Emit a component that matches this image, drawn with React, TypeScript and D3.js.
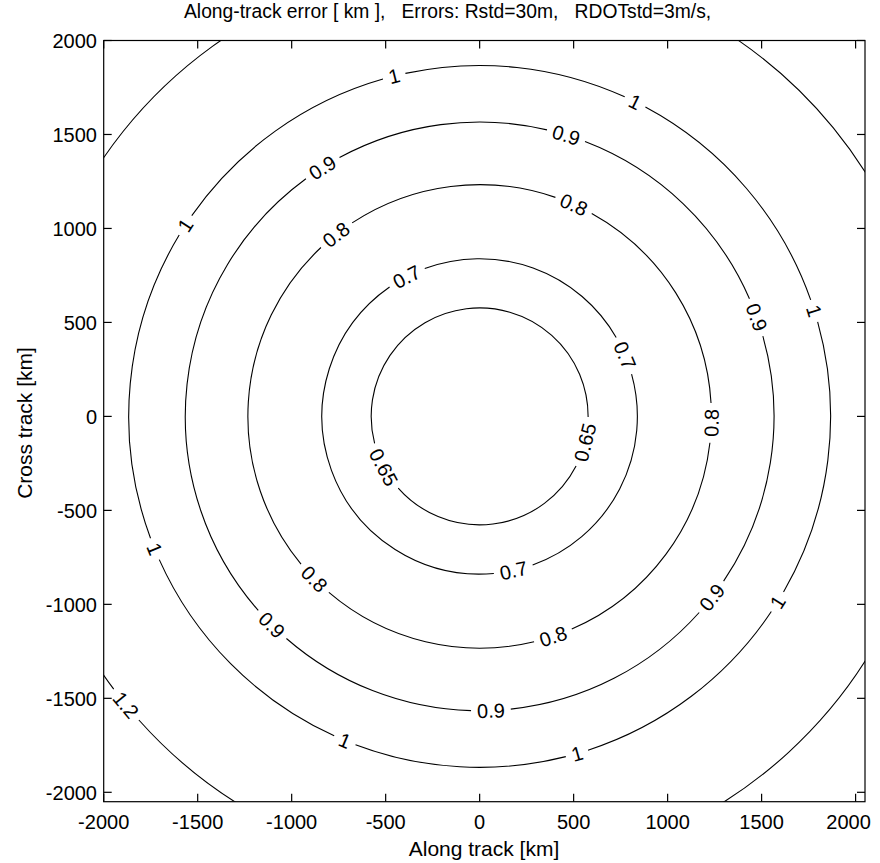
import React, { useEffect, useRef } from 'react';
import * as d3 from 'd3';

// contour levels and their radius (km)
const levels = [0.65, 0.7, 0.8, 0.9, 1, 1.2];
const radiiKm = [577, 839, 1233, 1566, 1867, 2428];
const levelText = ['0.65', '0.7', '0.8', '0.9', '1', '1.2'];
// where clabel put the labels, degrees counter-clockwise from +x
const labelAngles = [
  [-13.8, 207.9],
  [117.6, 22.8, -77.6],
  [66, 128.3, -1.6, 224.5, -71.5],
  [72.9, 122.3, 19.7, 225.1, -37.9, -87.8],
  [104.1, 63.7, 147, 17.5, 202.2, -31.9, 247.4, -73.9],
  [219.2],
];
const xTicks = [-2000, -1500, -1000, -500, 0, 500, 1000, 1500, 2000];
const yTicks = [-2000, -1500, -1000, -500, 0, 500, 1000, 1500, 2000];

const FONT = '"Liberation Sans", Arial, Helvetica, sans-serif';

const App = () => {
  const ref = useRef<SVGSVGElement>(null);

  useEffect(() => {
    const width = 880;
    const height = 863;
    const left = 103.7, right = 865, top = 40.5, bottom = 801.7;

    const x = d3.scaleLinear().domain([-2000, 2050]).range([left, right]);
    const y = d3.scaleLinear().domain([-2050, 2000]).range([bottom, top]);

    const svg = d3.select(ref.current)
      .attr('width', width)
      .attr('height', height)
      .style('position', 'absolute')
      .style('left', '0px')
      .style('top', '0px')
      .style('font-family', FONT);

    svg.selectAll('*').remove();

    svg.append('rect').attr('width', width).attr('height', height).attr('fill', '#fff');

    svg.append('defs').append('clipPath').attr('id', 'plotclip')
      .append('rect')
      .attr('x', left).attr('y', top)
      .attr('width', right - left).attr('height', bottom - top);

    const cx = x(0), cy = y(0);
    const labelSize = 20;
    const charW = (s: string) => s.split('').reduce((a, c) => a + (c === '.' ? 0.278 : 0.556), 0) * labelSize;

    const g = svg.append('g').attr('clip-path', 'url(#plotclip)');

    levels.forEach((lv, i) => {
      const r = x(radiiKm[i]) - x(0);
      const txt = levelText[i];
      const half = (charW(txt) / 2 + 6) / r;
      const gaps = labelAngles[i]
        .map(a => { let t = (a * Math.PI) / 180; t = ((t % (2 * Math.PI)) + 2 * Math.PI) % (2 * Math.PI); return t; })
        .sort((a, b) => a - b);

      const p = d3.path();
      gaps.forEach((t, k) => {
        const a0 = t + half;
        const a1 = (k + 1 < gaps.length ? gaps[k + 1] : gaps[0] + 2 * Math.PI) - half;
        if (a1 <= a0) return;
        p.moveTo(cx + r * Math.cos(a0), cy - r * Math.sin(a0));
        p.arc(cx, cy, r, -a0, -a1, true);
      });

      g.append('path')
        .attr('d', p.toString())
        .attr('fill', 'none')
        .attr('stroke', '#000')
        .attr('stroke-width', 1.1);

      labelAngles[i].forEach(a => {
        const t = (a * Math.PI) / 180;
        const px = cx + r * Math.cos(t);
        const py = cy - r * Math.sin(t);
        let rot = a + 90;
        rot = ((rot % 180) + 180) % 180;
        if (rot > 90) rot -= 180;
        g.append('text')
          .attr('transform', `translate(${px},${py}) rotate(${-rot})`)
          .attr('text-anchor', 'middle')
          .attr('dy', '0.36em')
          .attr('font-size', labelSize)
          .text(txt);
      });
    });

    // box
    svg.append('rect')
      .attr('x', left).attr('y', top)
      .attr('width', right - left).attr('height', bottom - top)
      .attr('fill', 'none').attr('stroke', '#000').attr('stroke-width', 1.2);

    const tl = 8;
    const ticks = svg.append('g').attr('stroke', '#000').attr('stroke-width', 1.2);
    xTicks.forEach(v => {
      ticks.append('line').attr('x1', x(v)).attr('x2', x(v)).attr('y1', bottom).attr('y2', bottom - tl);
      ticks.append('line').attr('x1', x(v)).attr('x2', x(v)).attr('y1', top).attr('y2', top + tl);
    });
    yTicks.forEach(v => {
      ticks.append('line').attr('x1', left).attr('x2', left + tl).attr('y1', y(v)).attr('y2', y(v));
      ticks.append('line').attr('x1', right).attr('x2', right - tl).attr('y1', y(v)).attr('y2', y(v));
    });

    // last label sits pulled in from the figure edge in the original
    svg.append('g').selectAll('text').data(xTicks).join('text')
      .attr('x', (d, i) => x(d) - (i === xTicks.length - 1 ? 7 : 0)).attr('y', 828.5)
      .attr('text-anchor', 'middle').attr('font-size', 20)
      .text(d => d);

    svg.append('g').selectAll('text').data(yTicks).join('text')
      .attr('x', 97).attr('y', d => y(d)).attr('dy', '0.36em')
      .attr('text-anchor', 'end').attr('font-size', 20)
      .text(d => d);

    svg.append('text')
      .attr('x', 484).attr('y', 856)
      .attr('text-anchor', 'middle').attr('font-size', 21)
      .text('Along track [km]');

    svg.append('text')
      .attr('transform', `translate(31.5,423) rotate(-90)`)
      .attr('text-anchor', 'middle').attr('font-size', 21)
      .text('Cross track [km]');

    svg.append('text')
      .attr('x', 184).attr('y', 17.5)
      .attr('font-size', 19.3)
      .attr('xml:space', 'preserve')
      .style('white-space', 'pre')
      .text('Along-track error [ km ],   Errors: Rstd=30m,   RDOTstd=3m/s,');
  }, []);

  return <svg ref={ref}></svg>;
};

export default App;
